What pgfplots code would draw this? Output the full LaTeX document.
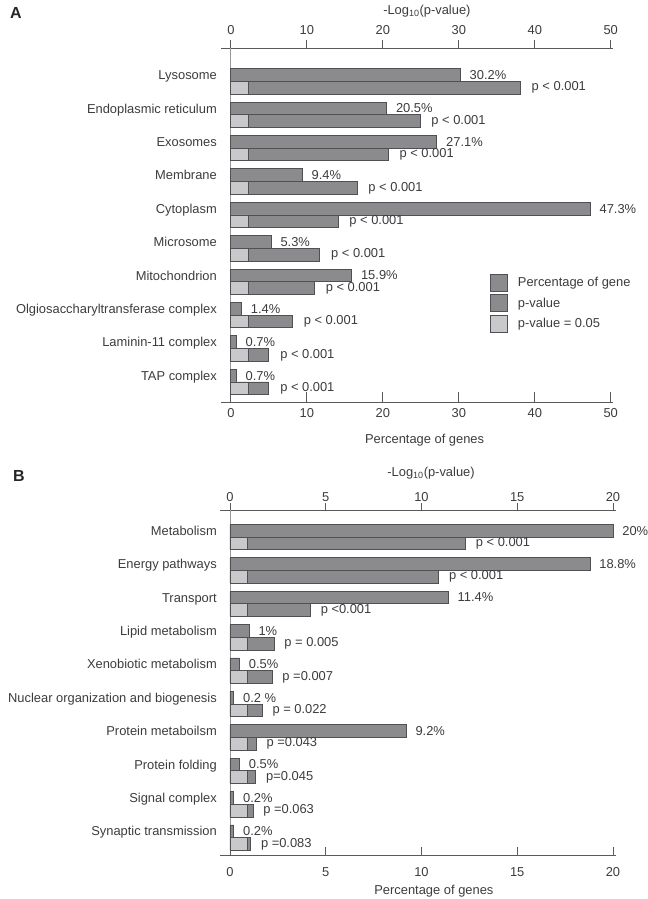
\documentclass[border=0pt]{standalone}
\usepackage{fontspec}
\setmainfont{Liberation Sans}
\usepackage{pgfplots}
\usepackage{pgfplotstable}
\pgfplotsset{compat=1.18}
\definecolor{barD}{RGB}{139,139,142}
\definecolor{barL}{RGB}{201,201,203}
\definecolor{edgeD}{RGB}{80,80,84}
\definecolor{txt}{RGB}{60,60,62}
\definecolor{axl}{RGB}{90,90,92}

\pgfplotstableread{
pos pct plog pref plab qlab
9 30.2 38.1 2.35 {30.2\%} {p < 0.001}
8 20.5 24.9 2.35 {20.5\%} {p < 0.001}
7 27.1 20.7 2.35 {27.1\%} {p < 0.001}
6 9.4 16.6 2.35 {9.4\%} {p < 0.001}
5 47.3 14.1 2.35 {47.3\%} {p < 0.001}
4 5.3 11.7 2.35 {5.3\%} {p < 0.001}
3 15.9 11.0 2.35 {15.9\%} {p < 0.001}
2 1.4 8.1 2.35 {1.4\%} {p < 0.001}
1 0.7 5.0 2.35 {0.7\%} {p < 0.001}
0 0.7 5.0 2.35 {0.7\%} {p < 0.001}
}\tabA

\pgfplotstableread{
pos pct plog pref plab qlab
9 20 12.3 0.93 {20\%} {p < 0.001}
8 18.8 10.9 0.93 {18.8\%} {p < 0.001}
7 11.4 4.2 0.93 {11.4\%} {p <0.001}
6 1 2.3 0.93 {1\%} {p = 0.005}
5 0.5 2.2 0.93 {0.5\%} {p =0.007}
4 0.2 1.68 0.93 {0.2 \%} {p = 0.022}
3 9.2 1.37 0.93 {9.2\%} {p =0.043}
2 0.5 1.35 0.93 {0.5\%} {p=0.045}
1 0.2 1.2 0.93 {0.2\%} {p =0.063}
0 0.2 1.08 0.93 {0.2\%} {p =0.083}
}\tabB

\pgfplotsset{
  common/.style={
    scale only axis, clip=false,
    /pgf/number format/assume math mode=true,
    tick label style={text=txt},
    label style={text=txt},
    axis line style={draw=axl, line width=0.8bp},
    tick style={draw=axl, line width=0.8bp},
  },
  mainax/.style={
    common,
    axis x line*=bottom, axis y line*=left,
    y axis line style={draw=none},
    ytick style={draw=none},
    xtick align=inside, major tick length=10bp,
    xticklabel style={yshift=-2bp},
    yticklabel style={inner sep=0pt, xshift=6bp, anchor=base east, yshift=-4.6bp},
    xbar, bar width=0.38, bar shift=0pt,
    legend image code/.code={\draw[#1] (0bp,-8.5bp) rectangle (17bp,8.5bp);},
  },
  topax/.style={
    common,
    axis x line*=top, axis y line=none,
    xtick align=outside, major tick length=8bp,
    xticklabel style={yshift=1bp},
  },
  pbar/.style={fill=barD, draw=edgeD, line width=0.8bp},
  lbar/.style={fill=barL, draw=edgeD, line width=0.8bp},
  lab/.style={nodes near coords, point meta=explicit symbolic,
    every node near coord/.append style={anchor=west, inner sep=0pt, xshift=#1, text=txt}},
}

\begin{document}
\fontsize{12.9bp}{15bp}\selectfont
\begin{tikzpicture}
\useasboundingbox (0,0) rectangle (648bp,-899bp);
\node[font=\fontsize{16bp}{18bp}\selectfont\bfseries, text=black!85] at (16bp,-13bp) {A};
\node[font=\fontsize{16bp}{18bp}\selectfont\bfseries, text=black!85] at (19bp,-476bp) {B};

% Panel A: top axis
\begin{axis}[topax,
  at={(221bp,-48bp)}, anchor=north west, width=392bp, height=354bp,
  xmin=-1.3, xmax=50.3, ymin=-0.6, ymax=10,
  xtick={0,10,...,50},
  xlabel={-Log\textsubscript{10}(p-value)},
  xlabel style={at={(axis cs:25.8,10)}, anchor=center, yshift=37bp},
]
\addplot[draw=gray!80, line width=0.8bp] coordinates {(0,-0.6) (0,10)};
\end{axis}
% Panel A: main axis
\begin{axis}[mainax,
  at={(221bp,-48bp)}, anchor=north west, width=392bp, height=354bp,
  xmin=-1.3, xmax=50.3, ymin=-0.6, ymax=10,
  xtick={0,10,...,50},
  ytick={0.19,1.19,2.19,3.19,4.19,5.19,6.19,7.19,8.19,9.19},
  yticklabels={TAP complex, Laminin-11 complex, Olgiosaccharyltransferase complex, Mitochondrion, Microsome, Cytoplasm, Membrane, Exosomes, Endoplasmic reticulum, Lysosome},
  xlabel={Percentage of genes},
  xlabel style={at={(axis cs:25.5,-0.6)}, anchor=center, yshift=-38bp},
  legend style={at={(axis cs:34.1,3.25)}, anchor=north west, draw=none, fill=none,
    inner sep=0pt, row sep=3bp, nodes={inner sep=0pt, anchor=west, text=txt},
    /tikz/every odd column/.append style={column sep=10bp}},
  legend cell align=left,
]
\addplot[pbar, lab=9bp] table[x=pct, y expr=\thisrow{pos}+0.19, meta=plab] {\tabA};
\addplot[pbar, lab=11bp] table[x=plog, y expr=\thisrow{pos}-0.19, meta=qlab] {\tabA};
\addplot[lbar] table[x=pref, y expr=\thisrow{pos}-0.19] {\tabA};
\legend{Percentage of gene, p-value, p-value = 0.05}
\end{axis}

% Panel B: top axis
\begin{axis}[topax,
  at={(220bp,-510bp)}, anchor=north west, width=395.8bp, height=345.7bp,
  xmin=-0.52, xmax=20.15, ymin=-0.54, ymax=9.81,
  xtick={0,5,...,20}, major tick length=7bp,
  xticklabel style={yshift=-4bp},
  xlabel={-Log\textsubscript{10}(p-value)},
  xlabel style={at={(axis cs:10.5,9.81)}, anchor=center, yshift=37bp},
]
\addplot[draw=gray!80, line width=0.8bp] coordinates {(0,-0.54) (0,9.81)};
\end{axis}
% Panel B: main axis
\begin{axis}[mainax,
  at={(220bp,-510bp)}, anchor=north west, width=395.8bp, height=345.7bp,
  xmin=-0.52, xmax=20.15, ymin=-0.54, ymax=9.81,
  xtick={0,5,...,20}, major tick length=9bp,
  xticklabel style={yshift=-5bp},
  ytick={0.19,1.19,2.19,3.19,4.19,5.19,6.19,7.19,8.19,9.19},
  yticklabels={Synaptic transmission, Signal complex, Protein folding, Protein metaboilsm, Nuclear organization and biogenesis, Xenobiotic metabolism, Lipid metabolism, Transport, Energy pathways, Metabolism},
  xlabel={Percentage of genes},
  xlabel style={at={(axis cs:10.65,-0.54)}, anchor=center, yshift=-35bp},
]
\addplot[pbar, lab=9bp] table[x=pct, y expr=\thisrow{pos}+0.19, meta=plab] {\tabB};
\addplot[pbar, lab=10bp] table[x=plog, y expr=\thisrow{pos}-0.19, meta=qlab] {\tabB};
\addplot[lbar] table[x=pref, y expr=\thisrow{pos}-0.19] {\tabB};
\end{axis}
\end{tikzpicture}
\end{document}
